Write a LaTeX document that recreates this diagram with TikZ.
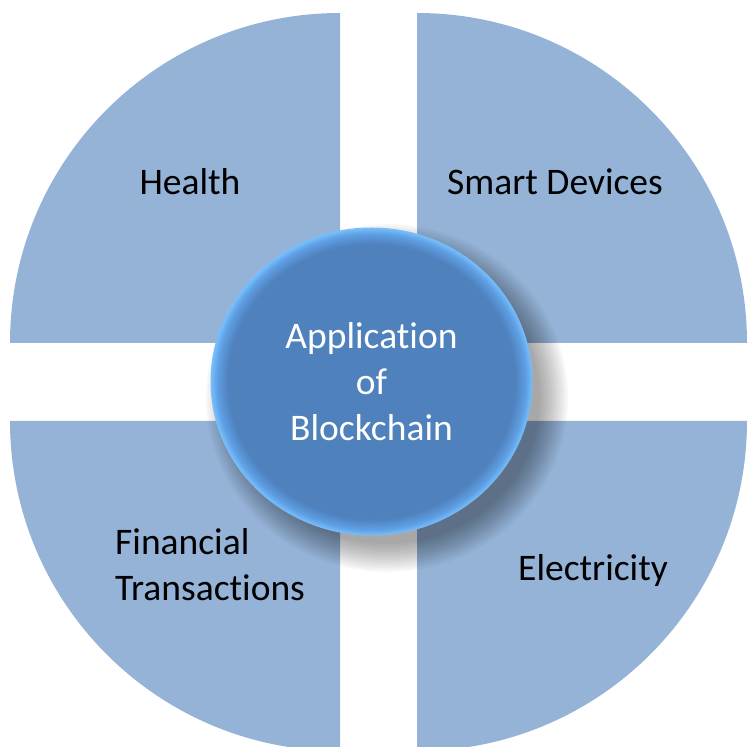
\documentclass[tikz,border=0pt]{standalone}
\usepackage{fontspec}
\setmainfont{Carlito}[Ligatures=NoCommon]
\usetikzlibrary{shapes.geometric}
\definecolor{quad}{HTML}{95B3D7}
\definecolor{cblue}{HTML}{4F81BD}
\definecolor{cedge}{HTML}{5E9FE4}
\definecolor{cglowc}{HTML}{78C0FC}
\pgfdeclareradialshading{cglow}{\pgfpoint{0bp}{0bp}}{color(0bp)=(cblue); color(22.3bp)=(cblue); color(24bp)=(cedge); color(25bp)=(cglowc); color(50bp)=(cglowc)}
\tikzset{
  quadrant/.style={fill=quad, draw=none},
  lbl/.style={font=\fontsize{37.5}{46}\selectfont, text=black, inner sep=0pt},
  corebox/.style={ellipse, minimum width=322pt, minimum height=308pt, inner sep=0pt,
    shading=cglow, draw=none, text=white, align=center, font=\fontsize{37.5}{46}\selectfont},
  shadowlayer/.style={fill=black, opacity=0.028}
}
\begin{document}
\begin{tikzpicture}[x=1pt,y=1pt]
\useasboundingbox (0,0) rectangle (750,747);
\clip (0,0) rectangle (750,747);
% quadrants
\fill[quadrant] (340,404) -- ++(-330,0) arc[start angle=180,end angle=90,radius=330] -- cycle;
\fill[quadrant] (417,404) -- ++(0,330) arc[start angle=90,end angle=0,radius=330] -- cycle;
\fill[quadrant] (340,326) -- ++(-330,0) arc[start angle=180,end angle=270,radius=330] -- cycle;
\fill[quadrant] (417,326) -- ++(330,0) arc[start angle=0,end angle=-90,radius=330] -- cycle;
% labels
\node[lbl, anchor=base] (health) at (190,552) {Health};
\node[lbl, anchor=base] (smart) at (555,552) {Smart Devices};
\node[lbl, anchor=base west] (elec) at (518,166) {Electricity};
\node[lbl, align=left, anchor=west] (fin) at (115,182) {Financial\\Transactions};
% shadow of the centre disc
\foreach \i in {0,...,14} {
  \fill[shadowlayer] (387,349) ellipse[x radius={181-2*\i}, y radius={174-2*\i}];
}
% centre disc
\node[corebox] (core) at (371.5,365.5) {Application\\of\\Blockchain};
\end{tikzpicture}
\end{document}
